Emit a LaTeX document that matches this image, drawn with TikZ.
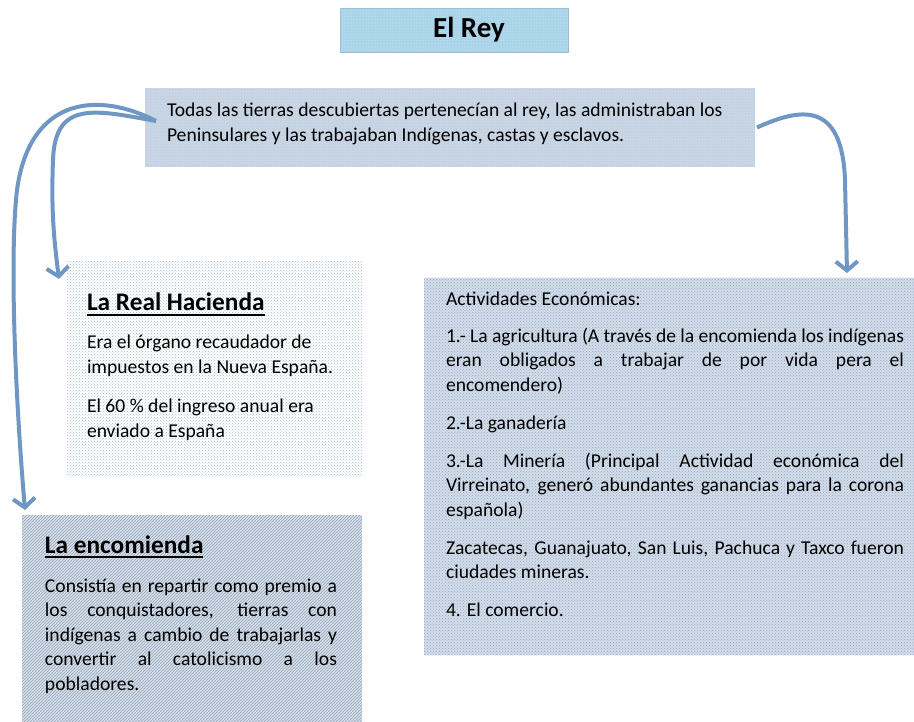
\documentclass[tikz,border=0pt]{standalone}
\usepackage{fontspec}
\setmainfont{Carlito}
\usetikzlibrary{arrows.meta,patterns}
\definecolor{titlec}{HTML}{A9D3E9}
\definecolor{titleedge}{HTML}{9DBFD3}
\definecolor{topc}{HTML}{C4D2E2}
\definecolor{hacdot}{HTML}{AEBBCB}
\definecolor{encc}{HTML}{D6DEE8}
\definecolor{encline}{HTML}{94A6BC}
\definecolor{actc}{HTML}{D3DDE9}
\definecolor{actdot}{HTML}{93A9C5}
\definecolor{arrowc}{HTML}{6F97C4}
\newcommand\ulin[1]{\setbox0\hbox{#1}\rlap{\rule[-5pt]{\wd0}{1.6pt}}\box0}
\newcommand\bodyfont{\fontsize{19.6pt}{24.5pt}\selectfont}
\newcommand\headfont{\fontsize{25.3pt}{29pt}\selectfont\bfseries}
\begin{document}
\begin{tikzpicture}[x=1pt,y=-1pt,
  panel/.style={rectangle, inner sep=0pt, outer sep=0pt},
  txt/.style={anchor=base west, inner sep=0pt, outer sep=0pt, font=\bodyfont, text=black},
  conn/.style={draw=arrowc, line width=4pt, -{Straight Barb[length=9pt,width=22pt]}}
]
\useasboundingbox (0,0) rectangle (914,722);
\fill[white] (0,0) rectangle (914,722);

% panels
\node[panel, fill=titlec, draw=titleedge, line width=0.8pt, minimum width=228pt, minimum height=44pt,
      postaction={pattern=dots, pattern color=white!70!titlec}] (title) at (454,30) {};
\node[panel, fill=topc, minimum width=610pt, minimum height=79pt,
      postaction={pattern=dots, pattern color=white!60!topc}] (top) at (450,127.5) {};
\node[panel, fill=white, minimum width=295pt, minimum height=214pt,
      postaction={pattern=crosshatch dots, pattern color=hacdot}] (hac) at (214.5,369) {};
\node[panel, fill=encc, minimum width=340pt, minimum height=207pt,
      postaction={pattern=north east lines, pattern color=encline}] (enc) at (192,618.5) {};
\node[panel, fill=actc, minimum width=490pt, minimum height=377pt,
      postaction={pattern=crosshatch dots, pattern color=actdot}] (act) at (669,466.5) {};

% title text
\node[anchor=base, inner sep=0pt, font=\fontsize{29pt}{32pt}\selectfont\bfseries, text=black]
  (titletxt) at (469,38) {El Rey};

% texts
\node[txt, text width=620pt, align=flush left] (toptxt) at (167,117)
  {Todas las tierras descubiertas pertenecían al rey, las administraban los\\Peninsulares y las trabajaban Indígenas, castas y esclavos.};

\node[txt, text width=270pt, align=flush left] (hactxt) at (87,311)
  {{\headfont\ulin{La Real Hacienda}}\par\vspace{13.5pt}%
   Era el órgano recaudador de\\impuestos en la Nueva España.\par\vspace{15pt}%
   El 60~\% del ingreso anual era\\enviado a España};

\node[txt, text width=292pt, align=justify] (enctxt) at (45,553)
  {\fontsize{19.6pt}{25.5pt}\selectfont\tolerance=10000\hbadness=10000\hyphenpenalty=10000
   {\headfont\ulin{La encomienda}}\par\vspace{14.5pt}%
   Consistía en repartir como premio a\linebreak los conquistadores, tierras con\linebreak
   indígenas a cambio de trabajarlas y\linebreak convertir al catolicismo a los\linebreak pobladores.};

\node[txt, text width=458pt, align=justify] (acttxt) at (446,306)
  {\tolerance=10000\hbadness=10000\hyphenpenalty=10000
   Actividades Económicas:\par\vspace{12pt}%
   1.- La agricultura (A través de la encomienda los indígenas\linebreak eran obligados a trabajar de por vida pera el\linebreak encomendero)\par\vspace{13.5pt}%
   2.-La ganadería\par\vspace{13.5pt}%
   3.-La Minería (Principal Actividad económica del\linebreak Virreinato, generó abundantes ganancias para la corona\linebreak española)\par\vspace{13.5pt}%
   Zacatecas, Guanajuato, San Luis, Pachuca y Taxco fueron\linebreak ciudades mineras.\par\vspace{13.5pt}%
   4. El comercio.};

% connectors
\coordinate (sL) at ([xshift=11pt,yshift=6.5pt]top.west);
\coordinate (sR) at ([xshift=2pt]top.east);
\coordinate (tHac) at ([xshift=-8pt,yshift=-17pt]hac.north west);
\coordinate (tEnc) at ([xshift=3pt,yshift=5pt]enc.north west);
\coordinate (tAct) at ([xshift=178pt,yshift=5pt]act.north);

\draw[conn] (sL) .. controls (95,110) and (55,100) .. (53,160) .. controls (51,210) and (54,240) .. (tHac);
\draw[conn] (sL) .. controls (100,92) and (30,95) .. (17,190) .. controls (10,250) and (14,380) .. (tEnc);
\draw[conn] (sR) .. controls (800,108) and (842,100) .. (845,180) -- (tAct);
\end{tikzpicture}
\end{document}
